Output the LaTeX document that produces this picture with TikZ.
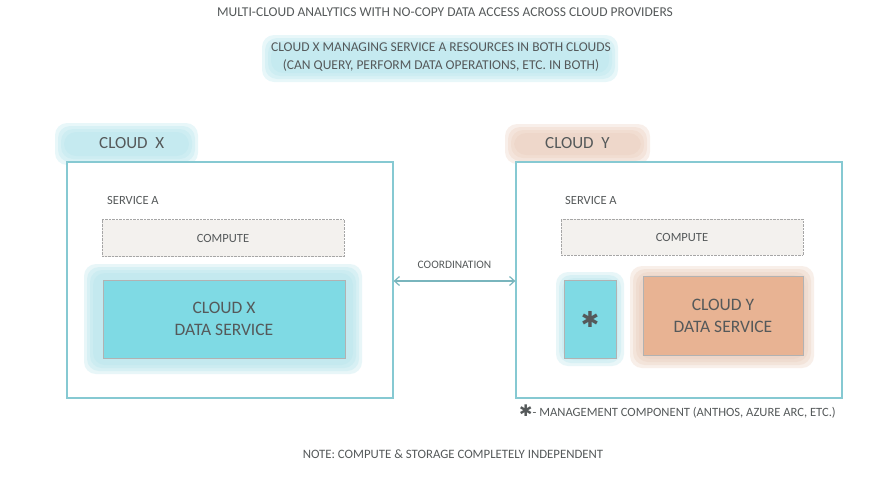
\documentclass[tikz,border=0pt]{standalone}
\usepackage{fontspec}
\setmainfont{Carlito}
\newfontfamily\symfont{DejaVu Sans}
\usetikzlibrary{positioning, arrows.meta}

\definecolor{txtgray}{HTML}{55595A}
\definecolor{edgeblue}{HTML}{86C9D2}
\definecolor{halo}{HTML}{B3E3EB}
\definecolor{cyanfill}{HTML}{7FDAE4}
\definecolor{peachhalo}{HTML}{E9CBB9}
\definecolor{peachfill}{HTML}{E8B393}
\definecolor{computefill}{HTML}{F3F1EE}

% soft watercolour patch: colour, corners
\newcommand{\softblob}[3]{%
  \foreach \d in {0,3,6,9}
    \fill[#1, opacity=0.3, rounded corners=12pt] ($#2+(\d,\d)$) rectangle ($#3-(\d,\d)$);}
\usetikzlibrary{calc}

\tikzset{
  txt/.style={text=txtgray, inner sep=0pt},
  cloudbox/.style={draw=edgeblue, line width=1.2pt, fill=white},
  computebox/.style={draw=gray!70, densely dotted, fill=computefill, txt, font=\fontsize{12.5}{14}\selectfont},
  databox/.style={draw=gray!60, fill=#1, txt, font=\fontsize{17.5}{22}\selectfont, align=center},
  heading/.style={txt, font=\fontsize{17}{20}\selectfont, anchor=west}
}

\begin{document}
\begin{tikzpicture}[x=1pt, y=-1pt]
\useasboundingbox (0,0) rectangle (880,485);

% titles
\node[txt, font=\fontsize{13.5}{16}\selectfont] (title) at (445,12) {MULTI-CLOUD ANALYTICS WITH NO-COPY DATA ACCESS ACROSS CLOUD PROVIDERS};
\softblob{halo}{(262,35)}{(618,82)}
\node[txt, font=\fontsize{13.5}{18}\selectfont, align=center] (sub) at (441,57) {CLOUD X MANAGING SERVICE A RESOURCES IN BOTH CLOUDS\\(CAN QUERY, PERFORM DATA OPERATIONS, ETC. IN BOTH)};

% cloud x
\softblob{halo}{(55,123)}{(198,165)}
\node[heading] (lblx) at (99,143) {CLOUD~ X};
\node[cloudbox, minimum width=326pt, minimum height=236pt] (cx) at (230,280) {};
\node[txt, font=\fontsize{12.5}{14}\selectfont, anchor=west] (svcx) at (107,200) {SERVICE A};
\node[computebox, minimum width=242pt, minimum height=37pt] (compx) at (223,238) {COMPUTE};
\softblob{halo}{(84,264)}{(362,374)}
\node[databox=cyanfill, minimum width=242pt, minimum height=78pt] (datax) at (224,319) {CLOUD X\\DATA SERVICE};

% cloud y
\softblob{peachhalo}{(505,124)}{(650,164)}
\node[heading] (lbly) at (545,143) {CLOUD~ Y};
\node[cloudbox, minimum width=326pt, minimum height=236pt] (cy) at (679,280) {};
\node[txt, font=\fontsize{12.5}{14}\selectfont, anchor=west] (svcy) at (565,200) {SERVICE A};
\node[computebox, minimum width=242pt, minimum height=36pt] (compy) at (682,237) {COMPUTE};
\softblob{halo}{(556,272)}{(624,366)}
\node[databox=cyanfill, minimum width=52pt, minimum height=78pt, font=\symfont\fontsize{22}{22}\selectfont] (mgmt) at (590,319) {✱};
\softblob{peachhalo}{(630,266)}{(814,368)}
\node[databox=peachfill, minimum width=160pt, minimum height=79pt] (datay) at (723,316) {CLOUD Y\\DATA SERVICE};

% coordination
\draw[edgeblue!90!black, line width=1.2pt, {Straight Barb[length=5pt, width=9pt]}-{Straight Barb[length=5pt, width=9pt]}] (cx.east |- 0,281) -- (cy.west |- 0,281)
  node[txt, font=\fontsize{11.4}{13}\selectfont, midway, above=12pt] (coord) {COORDINATION};

% legend and note
\node[txt, font=\fontsize{12.6}{14}\selectfont, anchor=west] (legend) at (519,412) {{\symfont\fontsize{16}{16}\selectfont ✱}- MANAGEMENT COMPONENT (ANTHOS, AZURE ARC, ETC.)};
\node[txt, font=\fontsize{12.8}{14}\selectfont] (note) at (453,454) {NOTE: COMPUTE \& STORAGE COMPLETELY INDEPENDENT};
\end{tikzpicture}
\end{document}
